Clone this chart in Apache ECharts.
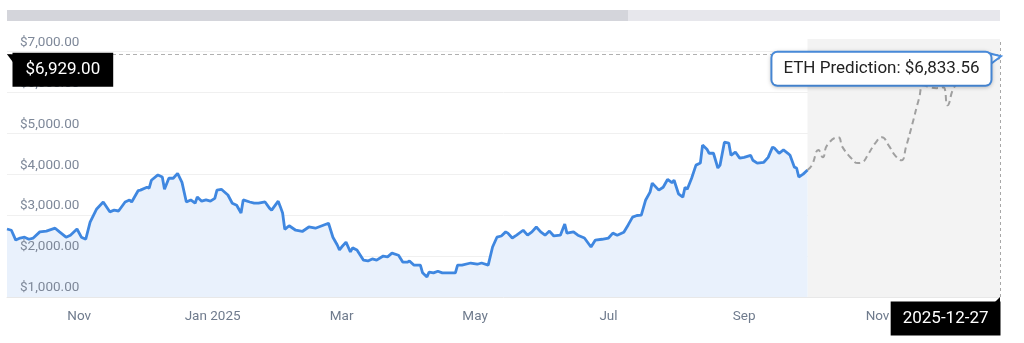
<!DOCTYPE html>
<html>
<head>
<meta charset="utf-8">
<script src="https://cdn.jsdelivr.net/npm/echarts@6/dist/echarts.min.js"></script>
<style>
html,body{margin:0;padding:0;background:#fff;}
#chart{width:1024px;height:343px;}
</style>
</head>
<body>
<div id="chart"></div>
<script>
const histDates = [
'2024-09-29','2024-10-01','2024-10-03','2024-10-05','2024-10-07','2024-10-09','2024-10-11','2024-10-14','2024-10-17','2024-10-21',
'2024-10-23','2024-10-26','2024-10-28','2024-10-31','2024-11-02','2024-11-04','2024-11-06','2024-11-09','2024-11-12','2024-11-15',
'2024-11-17','2024-11-19','2024-11-22','2024-11-24','2024-11-25','2024-11-28','2024-11-29','2024-12-02','2024-12-03','2024-12-04',
'2024-12-07','2024-12-09','2024-12-10','2024-12-12','2024-12-14','2024-12-16','2024-12-18','2024-12-20','2024-12-22','2024-12-24',
'2024-12-25','2024-12-27','2024-12-29','2024-12-31','2025-01-02','2025-01-03','2025-01-05','2025-01-08','2025-01-10','2025-01-12',
'2025-01-14','2025-01-15','2025-01-18','2025-01-20','2025-01-22','2025-01-25','2025-01-27','2025-01-28','2025-01-31','2025-02-01',
'2025-02-02','2025-02-03','2025-02-05','2025-02-08','2025-02-11','2025-02-14','2025-02-17','2025-02-20','2025-02-23','2025-02-25',
'2025-02-27','2025-02-28','2025-03-01','2025-03-03','2025-03-05','2025-03-06','2025-03-08','2025-03-11','2025-03-13','2025-03-15',
'2025-03-17','2025-03-20','2025-03-22','2025-03-24','2025-03-27','2025-03-29','2025-03-31','2025-04-01','2025-04-03','2025-04-06',
'2025-04-07','2025-04-09','2025-04-10','2025-04-12','2025-04-14','2025-04-16','2025-04-18','2025-04-22','2025-04-23','2025-04-25',
'2025-04-29','2025-05-02','2025-05-04','2025-05-07','2025-05-09','2025-05-11','2025-05-13','2025-05-15','2025-05-16','2025-05-18',
'2025-05-20','2025-05-23','2025-05-25','2025-05-27','2025-05-29','2025-05-31','2025-06-02','2025-06-04','2025-06-06','2025-06-09',
'2025-06-11','2025-06-12','2025-06-15','2025-06-17','2025-06-20','2025-06-23','2025-06-25','2025-06-28','2025-07-01','2025-07-03',
'2025-07-05','2025-07-08','2025-07-10','2025-07-12','2025-07-14','2025-07-16','2025-07-18','2025-07-20','2025-07-21','2025-07-24',
'2025-07-26','2025-07-28','2025-07-30','2025-07-31','2025-08-02','2025-08-04','2025-08-05','2025-08-06','2025-08-08','2025-08-10',
'2025-08-12','2025-08-13','2025-08-15','2025-08-16','2025-08-18','2025-08-20','2025-08-21','2025-08-23','2025-08-25','2025-08-26',
'2025-08-28','2025-08-30','2025-09-01','2025-09-04','2025-09-05','2025-09-07','2025-09-10','2025-09-12','2025-09-14','2025-09-15',
'2025-09-17','2025-09-19','2025-09-21','2025-09-22','2025-09-24','2025-09-25','2025-09-26','2025-09-28','2025-09-30'
];
const histValues = [
2660,2630,2390,2440,2460,2410,2440,2590,2610,2680,
2590,2460,2510,2660,2460,2410,2830,3150,3320,3080,
3120,3100,3320,3370,3320,3600,3610,3680,3660,3850,
3980,3930,3630,3900,3900,4020,3800,3320,3370,3290,
3440,3340,3370,3340,3410,3610,3630,3490,3290,3240,
3050,3370,3320,3290,3290,3320,3170,3120,3340,3200,
3050,2650,2740,2630,2600,2710,2680,2740,2800,2460,
2270,2150,2220,2340,2100,2200,2150,1900,1880,1930,
1900,2000,1980,2070,2020,1850,1850,1880,1780,1780,
1590,1490,1610,1590,1630,1590,1590,1590,1780,1780,
1830,1800,1830,1780,2220,2460,2490,2590,2560,2440,
2510,2630,2510,2590,2710,2590,2510,2610,2490,2510,
2780,2560,2590,2510,2440,2220,2390,2410,2440,2560,
2510,2580,2760,2950,2990,3000,3370,3560,3780,3610,
3680,3870,3790,3850,3520,3440,3680,3630,3900,4220,
4270,4710,4610,4510,4510,4150,4220,4780,4760,4460,
4540,4390,4410,4460,4340,4270,4290,4410,4660,4630,
4510,4590,4510,4460,4170,4150,3930,4000,4100
];
const predDates = [
'2025-09-30','2025-10-02','2025-10-05','2025-10-07','2025-10-09','2025-10-14','2025-10-16','2025-10-20','2025-10-23','2025-10-25',
'2025-10-28','2025-10-31','2025-11-03','2025-11-06','2025-11-09','2025-11-12','2025-11-14','2025-11-17','2025-11-20','2025-11-22',
'2025-11-25','2025-11-28','2025-12-01','2025-12-03','2025-12-06','2025-12-09','2025-12-14','2025-12-20','2025-12-27'
];
const predValues = [
4100,4220,4590,4410,4710,4900,4660,4390,4270,4290,
4510,4760,4900,4710,4460,4340,4660,5240,5850,6170,
6120,6100,6120,5680,6120,6240,6390,6660,6833.56
];
const yTickValues = [1000,2000,3000,4000,5000,6000,7000];
const axisStart = '2024-09-29';
const axisEnd = '2025-12-27';
const pointerValue = 6929;
const predictionLabel = 'ETH Prediction: $6,833.56';
const pointerDateLabel = '2025-12-27';
const pointerValueLabel = '$6,929.00';
const monthNames = ['Jan','Feb','Mar','Apr','May','Jun','Jul','Aug','Sep','Oct','Nov','Dec'];

const fmtUsd = v => '$' + v.toLocaleString('en-US', {minimumFractionDigits: 2, maximumFractionDigits: 2});

const chart = echarts.init(document.getElementById('chart'), null, {renderer: 'canvas'});
const hidden = {color: 'rgba(0,0,0,0)'};
const yScale = {type: 'value', min: 1000, max: 7300, interval: 1000, axisLine: {show: false}, axisTick: {show: false}};
chart.setOption({
  animation: false,
  textStyle: {fontFamily: 'Roboto, sans-serif'},
  grid: {left: 7, right: 24, top: 39, bottom: 46, containLabel: false},
  graphic: [
    {type: 'rect', shape: {x: 7, y: 10, width: 993, height: 11}, style: {fill: '#e7e7ec'}, silent: true},
    {type: 'rect', shape: {x: 7, y: 10, width: 621, height: 11}, style: {fill: '#d4d5db'}, silent: true}
  ],
  xAxis: {
    type: 'time',
    min: axisStart,
    max: axisEnd,
    splitNumber: 6,
    axisLine: {show: true, lineStyle: {color: '#e8e8e8'}},
    axisTick: {show: false},
    splitLine: {show: false},
    axisLabel: {
      color: '#6f7b8d', fontSize: 13.5, margin: 13,
      formatter: function (value) {
        const d = new Date(value);
        const m = monthNames[d.getMonth()];
        return d.getMonth() === 0 ? m + ' ' + d.getFullYear() : m;
      }
    }
  },
  yAxis: [
    Object.assign({}, yScale, {
      position: 'left',
      splitLine: {show: true, showMaxLine: false, showMinLine: false, lineStyle: {color: '#f0f0f0'}},
      axisLabel: {show: false}
    }),
    Object.assign({}, yScale, {
      position: 'left',
      z: 10,
      splitLine: {show: false},
      axisLabel: {
        inside: true, color: '#7e8899', fontSize: 13.5, margin: 13,
        verticalAlign: 'bottom', padding: [0, 0, 2, 0],
        showMaxLabel: false,
        formatter: function (v) { return yTickValues.indexOf(v) >= 0 ? fmtUsd(v) : ''; }
      }
    })
  ],
  series: [
    {
      name: 'ETH',
      type: 'line',
      yAxisIndex: 0,
      data: histDates.map((d, i) => [d, histValues[i]]),
      showSymbol: false,
      z: 3,
      lineStyle: {color: '#3f87e0', width: 2.8},
      itemStyle: {color: '#3f87e0'},
      areaStyle: {color: '#e9f1fc', opacity: 1}
    },
    {
      name: 'ETH Prediction',
      type: 'line',
      yAxisIndex: 0,
      data: predDates.map((d, i) => [d, predValues[i]]),
      showSymbol: false,
      smooth: 0.5,
      z: 4,
      lineStyle: {color: '#a0a0a0', width: 2, type: [6, 4]},
      itemStyle: {color: '#a0a0a0'},
      markArea: {
        silent: true,
        itemStyle: {color: '#f3f3f3'},
        data: [[{xAxis: predDates[0]}, {xAxis: axisEnd}]]
      },
      markLine: {
        silent: true,
        z: 6,
        symbol: 'none',
        label: {show: false},
        data: [
          {yAxis: pointerValue, lineStyle: {color: '#b0b0b0', width: 1, type: [4, 3]}},
          {xAxis: axisEnd, lineStyle: {color: '#a8a8a8', width: 1, type: [3, 3]}}
        ]
      },
      markPoint: {
        silent: true,
        z: 20,
        symbol: 'rect',
        symbolSize: 1,
        itemStyle: hidden,
        data: [
          {
            coord: [axisStart, pointerValue],
            symbol: 'path://M0,0 L6,0 L6,8 Z', symbolSize: [6, 8], symbolOffset: [3, 4],
            itemStyle: {color: '#000'}
          },
          {
            coord: [axisEnd, 1000],
            symbol: 'path://M6,0 L6,6 L0,6 Z', symbolSize: [6, 6], symbolOffset: [-3, 3],
            itemStyle: {color: '#000'}
          },
          {
            coord: [axisEnd, pointerValue],
            symbol: 'path://M0,0 L12,3 L0,12 Z', symbolSize: [12, 12], symbolOffset: [-5, 5],
            itemStyle: {color: '#fff', borderColor: '#4a8ee0', borderWidth: 2}
          },
          {
            coord: [axisStart, pointerValue],
            label: {
              show: true, position: [0, 0], align: 'left', verticalAlign: 'top', offset: [6, -1],
              formatter: pointerValueLabel, color: '#fff', fontSize: 17, lineHeight: 20,
              backgroundColor: '#000', padding: [7, 13]
            }
          },
          {
            coord: [axisEnd, 1000],
            label: {
              show: true, position: [0, 0], align: 'right', verticalAlign: 'top', offset: [1, 5],
              formatter: pointerDateLabel, color: '#fff', fontSize: 17, lineHeight: 20,
              backgroundColor: '#000', padding: [7, 12]
            }
          },
          {
            coord: [axisEnd, pointerValue],
            label: {
              show: true, position: [0, 0], align: 'right', verticalAlign: 'top', offset: [-9, -1],
              formatter: predictionLabel, color: '#222', fontSize: 17, lineHeight: 20,
              backgroundColor: '#fff', borderColor: '#4a8ee0', borderWidth: 2, borderRadius: 5,
              padding: [6, 11], shadowColor: 'rgba(0,0,0,0.18)', shadowBlur: 4, shadowOffsetY: 1
            }
          }
        ]
      }
    }
  ]
});
</script>
</body>
</html>
